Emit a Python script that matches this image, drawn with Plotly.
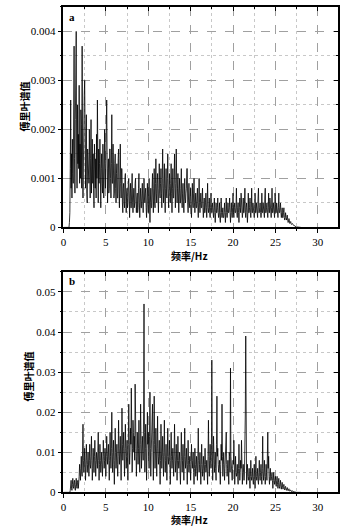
import plotly.graph_objects as go

# ---------------- data ----------------
freq_step_hz = 0.05  # spectrum sampled every 0.05 Hz from 0 Hz

# panel a: Fourier amplitude, units of 1e-4 (10 values per 0.5 Hz)
amp_a_e4 = [
    0, 0, 0, 0, 0, 0, 0, 0, 0, 0,                 # 0.0
    0, 0, 0, 0, 1, 3, 12, 26, 8, 15,              # 0.5
    6, 18, 11, 9, 28, 37, 14, 7, 22, 33,          # 1.0
    40, 16, 8, 25, 13, 19, 12, 29, 9, 17,         # 1.5
    10, 24, 21, 8, 37, 15, 6, 19, 11, 27,         # 2.0
    30, 12, 8, 18, 23, 7, 5, 16, 12, 10,          # 2.5
    9, 20, 13, 6, 14, 22, 7, 12, 18, 9,           # 3.0
    15, 8, 4, 17, 11, 8, 14, 6, 19, 10,           # 3.5
    26, 12, 5, 16, 9, 13, 18, 7, 4, 12,           # 4.0
    15, 9, 7, 17, 12, 6, 10, 20, 13, 8,           # 4.5
    20, 11, 26, 14, 5, 12, 14, 7, 8, 16,          # 5.0
    16, 10, 6, 13, 23, 9, 9, 17, 12, 6,           # 5.5
    7, 13, 15, 8, 5, 11, 13, 6, 6, 14,            # 6.0
    16, 7, 4, 10, 17, 9, 6, 12, 12, 5,            # 6.5
    3, 8, 9, 5, 4, 10, 11, 6, 3, 7,               # 7.0
    8, 4, 5, 9, 10, 6, 2, 7, 9, 4,                # 7.5
    4, 8, 11, 5, 3, 6, 8, 4, 5, 9,                # 8.0
    10, 5, 3, 6, 7, 3, 4, 8, 11, 5,               # 8.5
    2, 6, 8, 4, 4, 7, 9, 5, 3, 6,                 # 9.0
    10, 6, 5, 7, 8, 4, 2, 6, 9, 5,                # 9.5
    3, 7, 10, 5, 1, 5, 8, 4, 4, 8,                # 10.0
    11, 6, 3, 8, 12, 5, 4, 9, 14, 7,              # 10.5
    5, 9, 11, 6, 3, 8, 13, 7, 6, 9,               # 11.0
    12, 7, 4, 10, 16, 8, 5, 9, 13, 6,             # 11.5
    3, 8, 12, 7, 6, 10, 15, 8, 4, 7,              # 12.0
    11, 6, 5, 9, 13, 7, 3, 8, 12, 6,              # 12.5
    6, 10, 15, 8, 4, 9, 16, 10, 5, 8,             # 13.0
    11, 6, 3, 7, 10, 5, 5, 8, 12, 6,              # 13.5
    4, 7, 9, 5, 3, 6, 10, 6, 5, 7,                # 14.0
    8, 12, 12, 5, 3, 6, 9, 5, 4, 6,               # 14.5
    8, 4, 2, 5, 9, 5, 4, 7, 10, 5,                # 15.0
    3, 5, 7, 4, 4, 6, 8, 4, 2, 5,                 # 15.5
    10, 5, 3, 5, 7, 4, 4, 6, 8, 4,                # 16.0
    2, 4, 6, 3, 3, 5, 7, 4, 2, 5,                 # 16.5
    9, 4, 3, 4, 6, 3, 2, 4, 7, 4,                 # 17.0
    3, 4, 5, 3, 2, 4, 6, 3, 1, 3,                 # 17.5
    5, 3, 3, 4, 6, 3, 2, 3, 5, 2,                 # 18.0
    1, 3, 6, 3, 2, 3, 4, 2, 2, 3,                 # 18.5
    5, 3, 1, 3, 6, 3, 2, 3, 5, 3,                 # 19.0
    3, 4, 6, 3, 1, 3, 5, 3, 2, 4,                 # 19.5
    7, 3, 2, 4, 5, 3, 3, 4, 8, 3,                 # 20.0
    2, 4, 5, 3, 1, 4, 6, 4, 3, 7,                 # 20.5
    4, 3, 2, 3, 6, 3, 3, 5, 8, 3,                 # 21.0
    2, 4, 5, 3, 1, 3, 7, 3, 3, 4,                 # 21.5
    6, 3, 2, 4, 8, 3, 3, 5, 4, 3,                 # 22.0
    2, 3, 7, 3, 3, 5, 4, 3, 2, 6,                 # 22.5
    8, 3, 3, 4, 5, 3, 2, 3, 7, 3,                 # 23.0
    3, 5, 4, 3, 2, 6, 8, 3, 3, 4,                 # 23.5
    5, 3, 2, 4, 7, 3, 3, 6, 4, 3,                 # 24.0
    2, 4, 8, 3, 3, 5, 4, 3, 2, 7,                 # 24.5
    6, 3, 3, 5, 4, 3, 2, 4, 7, 3,                 # 25.0
    3, 4, 5, 3, 2, 3, 4, 2, 2, 3,                 # 25.5
    4, 2, 1.5, 2, 3, 2, 1.5, 2, 2.5, 1.5,         # 26.0
    1, 1.3, 1.8, 1, 0.8, 1, 1.2, 0.8, 0.6, 0.7,   # 26.5
    0.8, 0.5, 0.4, 0.4, 0.4, 0.3, 0.2, 0.2, 0.2, 0.1,  # 27.0
    0.1, 0.08, 0.05, 0.02, 0, 0, 0, 0, 0, 0,      # 27.5
    0,                                            # 28.0
]

# panel b: Fourier amplitude, units of 1e-3 (10 values per 0.5 Hz)
amp_b_e3 = [
    0, 0, 0, 0, 0, 0, 0, 0, 0, 0,                 # 0.0
    0, 0, 0, 0, 0, 0, 0.5, 2, 3, 1,               # 0.5
    0.5, 2, 3.5, 1.5, 1, 2.5, 3, 1, 0.5, 2,       # 1.0
    3.5, 1.5, 1, 2.5, 3, 1, 2, 4, 7, 3,           # 1.5
    3, 6, 9, 5, 4, 10, 17, 8, 5, 7,               # 2.0
    11, 6, 3, 7, 12, 8, 5, 7, 10, 6,              # 2.5
    4, 8, 12, 7, 6, 9, 14, 8, 3, 6,               # 3.0
    11, 7, 5, 9, 13, 8, 4, 7, 10, 6,              # 3.5
    6, 10, 15, 8, 3, 7, 12, 8, 5, 7,              # 4.0
    10, 6, 4, 8, 13, 9, 6, 8, 11, 7,              # 4.5
    4, 9, 14, 10, 7, 9, 12, 6, 3, 8,              # 5.0
    15, 9, 6, 11, 20, 10, 5, 9, 13, 7,            # 5.5
    2, 8, 16, 10, 6, 9, 12, 7, 4, 9,              # 6.0
    18, 11, 7, 10, 14, 8, 3, 10, 21, 12,          # 6.5
    8, 11, 15, 9, 4, 10, 17, 11, 6, 9,            # 7.0
    13, 8, 3, 12, 22, 13, 7, 10, 16, 12,          # 7.5
    26, 12, 5, 11, 18, 15, 10, 14, 8, 27,         # 8.0
    20, 11, 4, 9, 15, 10, 7, 11, 18, 10,          # 8.5
    5, 12, 22, 13, 6, 10, 14, 10, 8, 20,          # 9.0
    47, 15, 5, 11, 17, 9, 3, 11, 20, 12,          # 9.5
    15, 9, 6, 14, 25, 11, 4, 10, 18, 12,          # 10.0
    22, 10, 3, 13, 24, 12, 6, 10, 16, 9,          # 10.5
    4, 11, 19, 10, 7, 9, 13, 7, 2, 8,             # 11.0
    17, 10, 6, 9, 14, 8, 4, 10, 18, 9,            # 11.5
    5, 8, 12, 7, 3, 9, 16, 9, 7, 9,               # 12.0
    13, 7, 2, 8, 15, 9, 6, 8, 11, 7,              # 12.5
    4, 10, 17, 9, 5, 8, 12, 7, 3, 8,              # 13.0
    14, 8, 6, 8, 10, 5, 2, 8, 15, 9,              # 13.5
    5, 8, 12, 7, 3, 9, 16, 9, 6, 8,               # 14.0
    11, 6, 2, 7, 13, 8, 5, 7, 9, 5,               # 14.5
    3, 7, 12, 8, 6, 8, 10, 5, 2, 6,               # 15.0
    11, 7, 4, 6, 9, 5, 3, 9, 16, 8,               # 15.5
    5, 7, 10, 5, 2, 7, 12, 7, 4, 6,               # 16.0
    9, 5, 3, 7, 11, 7, 5, 6, 8, 4,                # 16.5
    2, 9, 18, 9, 4, 8, 12, 8, 6, 10,              # 17.0
    33, 12, 3, 8, 14, 8, 5, 7, 10, 6,             # 17.5
    3, 12, 24, 9, 11, 7, 5, 6, 8, 4,              # 18.0
    2, 7, 12, 8, 22, 9, 4, 7, 10, 5,              # 18.5
    3, 6, 9, 10, 15, 7, 4, 6, 8, 4,               # 19.0
    2, 10, 9, 5, 31, 9, 7, 5, 3, 6,               # 19.5
    8, 7, 13, 6, 2, 5, 9, 5, 4, 5,                # 20.0
    7, 4, 2, 6, 12, 6, 3, 5, 8, 6,                # 20.5
    13, 6, 2, 5, 7, 5, 3, 5, 9, 20,               # 21.0
    39, 8, 2, 5, 7, 4, 3, 4, 6, 3,                # 21.5
    1, 4, 8, 4, 3, 4, 6, 3, 2, 4,                 # 22.0
    7, 4, 1, 5, 9, 4, 3, 4, 6, 3,                 # 22.5
    2, 5, 8, 4, 3, 5, 7, 4, 2, 6,                 # 23.0
    14, 5, 3, 5, 8, 4, 2, 4, 7, 5,                # 23.5
    3, 7, 15, 6, 9, 4, 2, 4, 6, 3,                # 24.0
    3, 4, 5, 3, 1, 3, 5, 3, 2, 3,                 # 24.5
    4, 2, 1.5, 3, 4, 2, 1, 2.5, 3.5, 1.5,         # 25.0
    1, 2, 3, 1.5, 0.8, 1.8, 2.5, 1.2, 0.8, 1.5,   # 25.5
    2, 1, 0.6, 1.2, 1.5, 0.8, 0.5, 0.9, 1.2, 0.6, # 26.0
    0.4, 0.7, 0.9, 0.4, 0.3, 0.5, 0.6, 0.3, 0.2, 0.4,  # 26.5
    0.4, 0.2, 0.2, 0.2, 0.2, 0.1, 0.1, 0.1, 0.05, 0.03,  # 27.0
    0, 0, 0, 0, 0, 0, 0, 0, 0, 0,                 # 27.5
    0,                                            # 28.0
]

x_ticks = [0, 5, 10, 15, 20, 25, 30]
x_ticktext = ["0", "5", "10", "15", "20", "25", "30"]
y_ticks_a = [0, 0.001, 0.002, 0.003, 0.004]
y_ticktext_a = ["0", "0.001", "0.002", "0.003", "0.004"]
y_ticks_b = [0, 0.01, 0.02, 0.03, 0.04, 0.05]
y_ticktext_b = ["0", "0.01", "0.02", "0.03", "0.04", "0.05"]

y_title = "傅里叶谱值"
x_title = "频率/Hz"
panel_labels = ["a", "b"]

# ---------------- figure ----------------
W, H = 355, 531
freq_a = [i * freq_step_hz for i in range(len(amp_a_e4))]
freq_b = [i * freq_step_hz for i in range(len(amp_b_e3))]
val_a = [v * 1e-4 for v in amp_a_e4]
val_b = [v * 1e-3 for v in amp_b_e3]

X_RANGE = [0, 32.4]
Y_RANGE_A = [0, 0.0045]
Y_RANGE_B = [0, 0.055]

xd = [61 / W, 338 / W]
yd_a = [1 - 230 / H, 1 - 7 / H]
yd_b = [1 - 498 / H, 1 - 275 / H]

tick_font = dict(family="Liberation Serif", size=11, color="black")
line_col = "#000000"

fig = go.Figure()
fig.add_trace(go.Scatter(x=freq_a, y=val_a, mode="lines",
                         line=dict(color=line_col, width=0.8),
                         xaxis="x", yaxis="y", showlegend=False, hoverinfo="skip"))
fig.add_trace(go.Scatter(x=freq_b, y=val_b, mode="lines",
                         line=dict(color=line_col, width=0.8),
                         xaxis="x2", yaxis="y2", showlegend=False, hoverinfo="skip"))
# dummy traces to activate mirror (top/right) axes with inside ticks
fig.add_trace(go.Scatter(x=[None], y=[None], xaxis="x3", yaxis="y3", showlegend=False, hoverinfo="skip"))
fig.add_trace(go.Scatter(x=[None], y=[None], xaxis="x4", yaxis="y4", showlegend=False, hoverinfo="skip"))

grid_major = "#a0a0a0"
grid_minor = "#c8c8c8"
minor_x = [2.5, 7.5, 12.5, 17.5, 22.5, 27.5, 32.5]
minor_a = [0.0005, 0.0015, 0.0025, 0.0035, 0.0045]
minor_b = [0.005, 0.015, 0.025, 0.035, 0.045, 0.055]


def xaxis_main(anchor):
    return dict(domain=xd, anchor=anchor, range=X_RANGE, tickmode="array",
                tickvals=x_ticks, ticktext=x_ticktext, ticks="outside",
                ticklen=4, tickwidth=1, tickcolor="black", tickfont=tick_font,
                showline=True, linecolor="black", linewidth=1.5,
                showgrid=True, gridcolor=grid_major, griddash="dash", gridwidth=0.8,
                zeroline=False,
                minor=dict(tickvals=minor_x, ticks="outside", ticklen=2, tickcolor="black",
                           showgrid=True, gridcolor=grid_minor, griddash="dot", gridwidth=0.8))


def yaxis_main(anchor, yd, rng, tv, tt, minor_vals):
    return dict(domain=yd, anchor=anchor, range=rng, tickmode="array",
                tickvals=tv, ticktext=tt, ticks="outside", ticklen=4, tickwidth=1,
                tickcolor="black", tickfont=tick_font,
                showline=True, linecolor="black", linewidth=1.5,
                showgrid=True, gridcolor=grid_major, griddash="dash", gridwidth=0.8,
                zeroline=False,
                minor=dict(tickvals=minor_vals, ticks="outside", ticklen=2,
                           tickcolor="black", showgrid=True, gridcolor=grid_minor,
                           griddash="dot", gridwidth=0.8))


def mirror_x(over, anchor):
    return dict(overlaying=over, side="top", anchor=anchor, range=X_RANGE,
                tickmode="array", tickvals=x_ticks, showticklabels=False,
                ticks="inside", ticklen=4, tickcolor="black",
                showline=True, linecolor="black", linewidth=1.5,
                showgrid=False, zeroline=False,
                minor=dict(tickvals=minor_x[:-1], ticks="inside", ticklen=2,
                           tickcolor="black"))


def mirror_y(over, anchor, rng, tv, minor_vals):
    return dict(overlaying=over, side="right", anchor=anchor, range=rng,
                tickmode="array", tickvals=tv, showticklabels=False,
                ticks="inside", ticklen=4, tickcolor="black",
                showline=True, linecolor="black", linewidth=1.5,
                showgrid=False, zeroline=False,
                minor=dict(tickvals=minor_vals[:-1], ticks="inside", ticklen=2,
                           tickcolor="black"))


fig.update_layout(
    width=W, height=H, margin=dict(l=0, r=0, t=0, b=0),
    paper_bgcolor="white", plot_bgcolor="white",
    xaxis=xaxis_main("y"),
    yaxis=yaxis_main("x", yd_a, Y_RANGE_A, y_ticks_a, y_ticktext_a, minor_a),
    xaxis2=xaxis_main("y2"),
    yaxis2=yaxis_main("x2", yd_b, Y_RANGE_B, y_ticks_b, y_ticktext_b, minor_b),
    xaxis3=mirror_x("x", "y3"),
    yaxis3=mirror_y("y", "x3", Y_RANGE_A, y_ticks_a, minor_a),
    xaxis4=mirror_x("x2", "y4"),
    yaxis4=mirror_y("y2", "x4", Y_RANGE_B, y_ticks_b, minor_b),
)

title_font = dict(family="Noto Sans CJK SC", size=10, color="black", weight="bold")
annots = [
    dict(text=y_title, x=22 / W, y=1 - 108 / H, textangle=-90),
    dict(text=y_title, x=26 / W, y=1 - 381 / H, textangle=-90),
    dict(text=x_title, x=188 / W, y=1 - 258 / H, textangle=0),
    dict(text=x_title, x=188 / W, y=1 - 525 / H, textangle=0),
]
for a in annots:
    fig.add_annotation(xref="paper", yref="paper", xanchor="center", yanchor="middle",
                       showarrow=False, font=title_font, borderpad=0, **a)

for lbl, yy in zip(panel_labels, [17, 284]):
    fig.add_annotation(xref="paper", yref="paper", x=65 / W, y=1 - yy / H,
                       xanchor="left", yanchor="middle", showarrow=False, text=lbl,
                       font=dict(family="Liberation Serif", size=11, color="black",
                                 weight="bold"))

fig.write_html("out.html")
